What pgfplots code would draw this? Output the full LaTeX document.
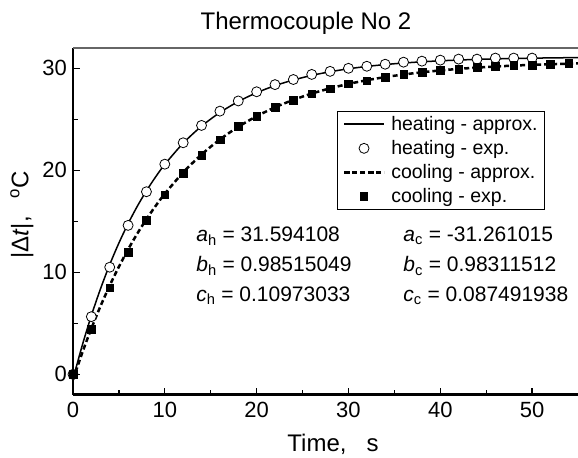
\documentclass[border=0pt]{standalone}
\usepackage{fontspec}
\setmainfont{Liberation Sans}
\usepackage{pgfplots}
\pgfplotsset{compat=1.18}

\newcommand\fs[1]{\fontsize{#1bp}{#1bp}\selectfont}

\begin{document}
\begin{tikzpicture}
\begin{axis}[
    at={(0,0)}, anchor=south west,
    scale only axis,
    width=505bp, height=346.8bp,
    xmin=0, xmax=55, ymin=-2, ymax=32,
    axis lines=left,
    axis line style={-, line width=2.5bp},
    xtick={0,10,...,50}, ytick={0,10,20,30},
    minor x tick num=1, minor y tick num=1,
    tick align=inside,
    major tick length=7bp, minor tick length=5bp,
    tick style={line width=1.2bp, black},
    /pgf/number format/assume math mode=true,
    tick label style={font=\fs{22}},
    xticklabel style={inner sep=0pt, yshift=-7bp},
    yticklabel style={inner sep=0pt, xshift=-6bp},
    clip=false,
    legend style={at={(0.9347,0.818)}, anchor=north east,
        draw=black, line width=0.8bp, font=\fs{19.5},
        inner xsep=5bp, inner ysep=3bp, row sep=4.5bp,
        cells={anchor=west},
        /tikz/every odd column/.style={column sep=4bp}},
    legend image code/.code={
        \draw[mark repeat=2, mark phase=2, #1]
            plot coordinates {(0bp,0bp) (20bp,0bp) (40bp,0bp)};},
]
\draw[black!60, line width=1.5bp] (rel axis cs:0,1) -- (rel axis cs:1,1);

% heating - approx.
\addplot[black, line width=1.5bp, smooth, no marks,
    legend image post style={line width=2.4bp}] coordinates {
(0,-0.469)(1,2.814)(2,5.756)(3,8.392)(4,10.755)(5,12.872)(6,14.769)(7,16.468)
(8,17.992)(9,19.356)(10,20.579)(12,22.657)(14,24.326)(16,25.665)(18,26.741)
(20,27.605)(22,28.299)(24,28.855)(26,29.303)(28,29.662)(30,29.950)(32,30.182)
(34,30.367)(36,30.517)(38,30.636)(40,30.733)(42,30.810)(44,30.872)(46,30.922)
(48,30.962)(50,30.994)(52,31.020)(54,31.040)(55,31.049)};
\addlegendentry{heating - approx.}

% heating - exp.
\addplot[only marks, mark=*, mark size=5bp,
    mark options={fill=white, draw=black, line width=0.8bp}] coordinates {
(0,0)(2,5.65)(4,10.5)(6,14.6)(8,17.9)(10,20.6)(12,22.7)(14,24.4)(16,25.8)
(18,26.8)(20,27.7)(22,28.4)(24,28.9)(26,29.4)(28,29.7)(30,30.0)(32,30.2)
(34,30.4)(36,30.6)(38,30.7)(40,30.8)(42,30.9)(44,30.9)(46,31.0)(48,31.0)(50,31.0)};
\addlegendentry{heating - exp.}

% cooling - approx.
\addplot[black, line width=2.5bp, dash pattern=on 5bp off 3bp, smooth, no marks] coordinates {
(0,-0.528)(1,2.091)(2,4.490)(3,6.689)(4,8.703)(5,10.549)(6,12.240)(7,13.789)
(8,15.208)(9,16.509)(10,17.701)(12,19.793)(14,21.549)(16,23.023)(18,24.261)
(20,25.300)(22,26.172)(24,26.904)(26,27.519)(28,28.035)(30,28.468)(32,28.832)
(34,29.137)(36,29.393)(38,29.608)(40,29.789)(42,29.941)(44,30.068)(46,30.174)
(48,30.264)(50,30.339)(52,30.403)(54,30.456)(55,30.479)};
\addlegendentry{cooling - approx.}

% cooling - exp.
\addplot[only marks, mark=square*, mark size=3.8bp,
    mark options={fill=black, draw=black, solid}] coordinates {
(0,0)(2,4.4)(4,8.5)(6,12.0)(8,15.1)(10,17.6)(12,19.7)(14,21.5)(16,23.0)
(18,24.3)(20,25.3)(22,26.2)(24,26.9)(26,27.5)(28,28.0)(30,28.5)(32,28.8)
(34,29.1)(36,29.4)(38,29.6)(40,29.8)(42,29.9)(44,30.1)(46,30.2)(48,30.3)
(50,30.3)(52,30.4)(54,30.5)};
\addlegendentry{cooling - exp.}

\node[anchor=base west, font=\fs{21}] at (axis cs:13.05,13.0) {\textit{a}\textsubscript{h} = 31.594108};
\node[anchor=base west, font=\fs{21}] at (axis cs:13.05,10.03) {\textit{b}\textsubscript{h} = 0.98515049};
\node[anchor=base west, font=\fs{21}] at (axis cs:13.05,7.16) {\textit{c}\textsubscript{h} = 0.10973033};
\node[anchor=base west, font=\fs{21}] at (axis cs:35.6,13.0) {\textit{a}\textsubscript{c} = -31.261015};
\node[anchor=base west, font=\fs{21}] at (axis cs:35.6,10.03) {\textit{b}\textsubscript{c} = 0.98311512};
\node[anchor=base west, font=\fs{21}] at (axis cs:35.6,7.16) {\textit{c}\textsubscript{c} = 0.087491938};
\end{axis}

\node[font=\fs{24}] at (233bp,371bp) {Thermocouple No 2};
\node[font=\fs{24}] at (260bp,-50bp) {Time,\hspace{20bp}s};
\node[font=\fs{24}, rotate=90] at (-51bp,179.7bp) {|Δ\textit{t}|,\hspace{18bp}\textsuperscript{o}C};

\pgfresetboundingbox
\useasboundingbox (-73bp,-63.3bp) rectangle (505bp,394.7bp);
\end{tikzpicture}
\end{document}
